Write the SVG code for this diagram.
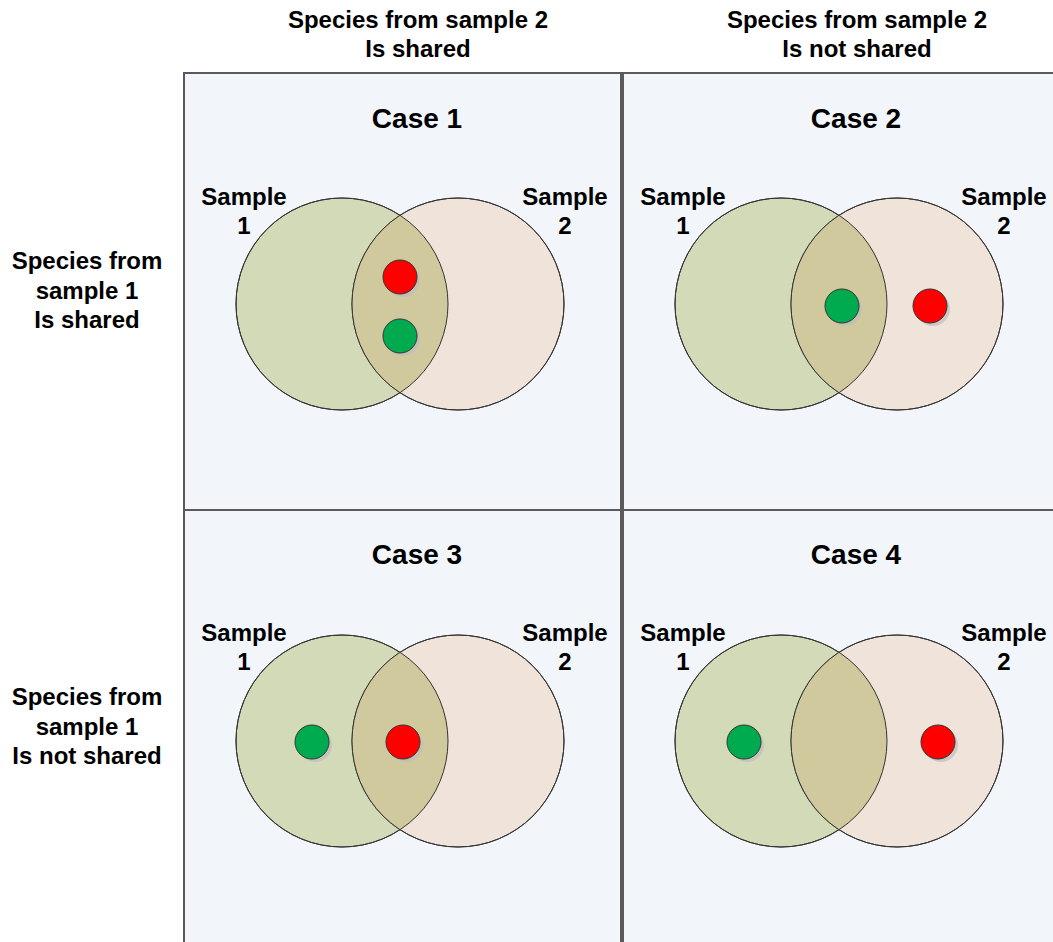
<svg xmlns="http://www.w3.org/2000/svg" width="1053" height="942" viewBox="0 0 1053 942">
<style>
text{font-family:"Liberation Sans",Arial,sans-serif;font-weight:bold;fill:#000;text-anchor:middle}
.hd{font-size:24px}
.cs{font-size:28px}
.sm{font-size:24px}
.panel{fill:#F2F6FA;stroke:#5a5a5a;stroke-width:2}
.c1{fill:#D3DAB8;stroke:#333;stroke-width:1}
.c2{fill:#F0E3DA;stroke:#333;stroke-width:1}
.ov{fill:#D0C99D}
.edge{fill:none;stroke:#333;stroke-width:1}
.sh{fill:#bdbdbd;opacity:0.7}
.red{fill:#FF0000;stroke:#333;stroke-width:1}
.grn{fill:#00AA4F;stroke:#333;stroke-width:1}
</style>
<defs>
<g id="venn">
<circle class="c1" cx="0" cy="0" r="106"/>
<circle class="c2" cx="116" cy="0" r="106"/>
<clipPath id="clipL"><circle cx="0" cy="0" r="106"/></clipPath>
<circle class="ov" cx="116" cy="0" r="106" clip-path="url(#clipL)"/>
<circle class="edge" cx="0" cy="0" r="106"/>
<circle class="edge" cx="116" cy="0" r="106"/>
</g>
<g id="red"><circle class="sh" cx="3" cy="3" r="17"/><circle class="red" cx="0" cy="0" r="17"/></g>
<g id="grn"><circle class="sh" cx="3" cy="3" r="17"/><circle class="grn" cx="0" cy="0" r="17"/></g>
</defs>
<rect width="1053" height="942" fill="#fff"/>
<g id="headers">
<text class="hd" x="418" y="28">Species from sample 2</text>
<text class="hd" x="418" y="57">Is shared</text>
<text class="hd" x="857" y="28">Species from sample 2</text>
<text class="hd" x="857" y="57">Is not shared</text>
<text class="hd" x="87" y="269">Species from</text>
<text class="hd" x="87" y="299">sample 1</text>
<text class="hd" x="87" y="328">Is shared</text>
<text class="hd" x="87" y="705">Species from</text>
<text class="hd" x="87" y="735">sample 1</text>
<text class="hd" x="87" y="764">Is not shared</text>
</g>
<g id="case1">
<rect class="panel" x="184" y="73" width="437" height="437"/>
<text class="cs" x="417" y="128">Case 1</text>
<text class="sm" x="244" y="205">Sample</text>
<text class="sm" x="244" y="234">1</text>
<text class="sm" x="565" y="205">Sample</text>
<text class="sm" x="565" y="234">2</text>
<use href="#venn" x="342" y="304"/>
<use href="#red" x="400" y="277"/>
<use href="#grn" x="400" y="336"/>
</g>
<g id="case2">
<rect class="panel" x="623" y="73" width="440" height="437"/>
<text class="cs" x="856" y="128">Case 2</text>
<text class="sm" x="683" y="205">Sample</text>
<text class="sm" x="683" y="234">1</text>
<text class="sm" x="1004" y="205">Sample</text>
<text class="sm" x="1004" y="234">2</text>
<use href="#venn" x="781" y="304"/>
<use href="#grn" x="842" y="306"/>
<use href="#red" x="930" y="306"/>
</g>
<g id="case3">
<rect class="panel" x="184" y="510" width="437" height="440"/>
<text class="cs" x="417" y="564">Case 3</text>
<text class="sm" x="244" y="641">Sample</text>
<text class="sm" x="244" y="670">1</text>
<text class="sm" x="565" y="641">Sample</text>
<text class="sm" x="565" y="670">2</text>
<use href="#venn" x="342" y="741"/>
<use href="#grn" x="312" y="742"/>
<use href="#red" x="403" y="742"/>
</g>
<g id="case4">
<rect class="panel" x="623" y="510" width="440" height="440"/>
<text class="cs" x="856" y="564">Case 4</text>
<text class="sm" x="683" y="641">Sample</text>
<text class="sm" x="683" y="670">1</text>
<text class="sm" x="1004" y="641">Sample</text>
<text class="sm" x="1004" y="670">2</text>
<use href="#venn" x="781" y="741"/>
<use href="#grn" x="744" y="742"/>
<use href="#red" x="938" y="742"/>
</g>
<g id="connectors"/>
</svg>
